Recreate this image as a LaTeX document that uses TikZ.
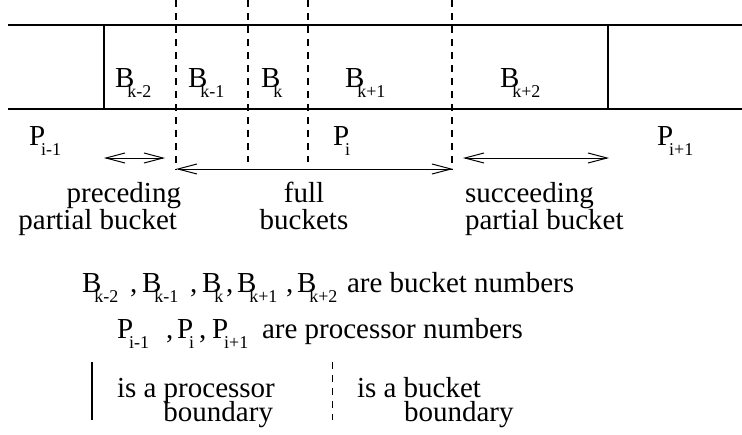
\documentclass[tikz,border=0pt]{standalone}
\usepackage{fontspec}
\setmainfont{Liberation Serif}
\usetikzlibrary{arrows.meta}
% letter with a lowered, slightly overlapping index
\newcommand\Bsub[1]{B\kern-7pt\raisebox{-10.5pt}{\fontsize{18}{18}\selectfont #1}}
\newcommand\Psub[1]{P\kern-4pt\raisebox{-10pt}{\fontsize{18}{18}\selectfont #1}}
\begin{document}
\begin{tikzpicture}[x=1pt,y=-1pt,
  txt/.style={inner sep=0pt,outer sep=0pt,font=\fontsize{29}{29}\selectfont},
  wall/.style={line width=1.4pt},
  bktline/.style={line width=1.2pt,dash pattern=on 7pt off 6pt},
  spanarrow/.style={line width=1pt,
    {Straight Barb[length=19pt,width=10pt]}-{Straight Barb[length=19pt,width=10pt]}}]
\useasboundingbox (0,0) rectangle (742,434);

% array band
\coordinate (tl) at (8,25);   \coordinate (tr) at (742,25);
\coordinate (bl) at (8,109);  \coordinate (br) at (742,109);
\draw[wall] (tl) -- (tr);
\draw[wall] (bl) -- (br);

% processor boundaries
\coordinate (p1t) at (104,25); \coordinate (p1b) at (104,109);
\coordinate (p2t) at (608,25); \coordinate (p2b) at (608,109);
\draw[wall] (p1t) -- (p1b);
\draw[wall] (p2t) -- (p2b);

% bucket boundaries
\coordinate (d1t) at (176,0); \coordinate (d1b) at (176,170);
\coordinate (d2t) at (248,0); \coordinate (d2b) at (248,162);
\coordinate (d3t) at (308,0); \coordinate (d3b) at (308,162);
\coordinate (d4t) at (452,0); \coordinate (d4b) at (452,170);
\draw[bktline] (d1t) -- (d1b);
\draw[bktline] (d2t) -- (d2b);
\draw[bktline] (d3t) -- (d3b);
\draw[bktline] (d4t) -- (d4b);

% bucket labels
\node[txt,anchor=base west] (bkm2) at (115,87) {\Bsub{k-2}};
\node[txt,anchor=base west] (bkm1) at (188,87) {\Bsub{k-1}};
\node[txt,anchor=base west] (bk)   at (261,87) {\Bsub{k}};
\node[txt,anchor=base west] (bkp1) at (345,87) {\Bsub{k+1}};
\node[txt,anchor=base west] (bkp2) at (500,87) {\Bsub{k+2}};

% processor labels
\node[txt,anchor=base west] (pim1) at (29,145)  {\Psub{i-1}};
\node[txt,anchor=base west] (pi)   at (333,145) {\Psub{i}};
\node[txt,anchor=base west] (pip1) at (657,145) {\Psub{i+1}};

% extents
\coordinate (a1l) at (104,158); \coordinate (a1r) at (165,158);
\coordinate (a2l) at (176,169); \coordinate (a2r) at (453,169);
\coordinate (a3l) at (463,158); \coordinate (a3r) at (609,158);
\draw[spanarrow] (a1l) -- (a1r);
\draw[spanarrow] (a2l) -- (a2r);
\draw[spanarrow] (a3l) -- (a3r);

\node[txt,anchor=base east] (prec1) at (181,202) {preceding};
\node[txt,anchor=base east] (prec2) at (177,229) {partial bucket};
\node[txt,anchor=base] (full1) at (304,202) {full};
\node[txt,anchor=base] (full2) at (304,229) {buckets};
\node[txt,anchor=base west] (succ1) at (465,202) {succeeding};
\node[txt,anchor=base west] (succ2) at (465,229) {partial bucket};

% legend: buckets
\node[txt,anchor=base west] (lb1) at (82,292)  {\Bsub{k-2}};
\node[txt,anchor=base west] (lc1) at (130,292) {,};
\node[txt,anchor=base west] (lb2) at (142,292) {\Bsub{k-1}};
\node[txt,anchor=base west] (lc2) at (190,292) {,};
\node[txt,anchor=base west] (lb3) at (202,292) {\Bsub{k}};
\node[txt,anchor=base west] (lc3) at (226,292) {,};
\node[txt,anchor=base west] (lb4) at (237,292) {\Bsub{k+1}};
\node[txt,anchor=base west] (lc4) at (286,292) {,};
\node[txt,anchor=base west] (lb5) at (297,292) {\Bsub{k+2}};
\node[txt,anchor=base west] (lbt) at (347,292) {are bucket numbers};

% legend: processors
\node[txt,anchor=base west] (lp1) at (117,338) {\Psub{i-1}};
\node[txt,anchor=base west] (lq1) at (166,338) {,};
\node[txt,anchor=base west] (lp2) at (177,338) {\Psub{i}};
\node[txt,anchor=base west] (lq2) at (199,338) {,};
\node[txt,anchor=base west] (lp3) at (212,338) {\Psub{i+1}};
\node[txt,anchor=base west] (lpt) at (262,338) {are processor numbers};

% legend: boundary styles
\coordinate (ls1) at (92,362);  \coordinate (ls2) at (92,420);
\coordinate (ld1) at (332,362); \coordinate (ld2) at (332,420);
\draw[line width=1.2pt] (ls1) -- (ls2);
\draw[bktline,line width=1pt] (ld1) -- (ld2);
\node[txt,anchor=base west] (lsa) at (117,397) {is a processor};
\node[txt,anchor=base east] (lsb) at (273,421) {boundary};
\node[txt,anchor=base west] (lda) at (357,397) {is a bucket};
\node[txt,anchor=base west] (ldb) at (404,421) {boundary};
\end{tikzpicture}
\end{document}
